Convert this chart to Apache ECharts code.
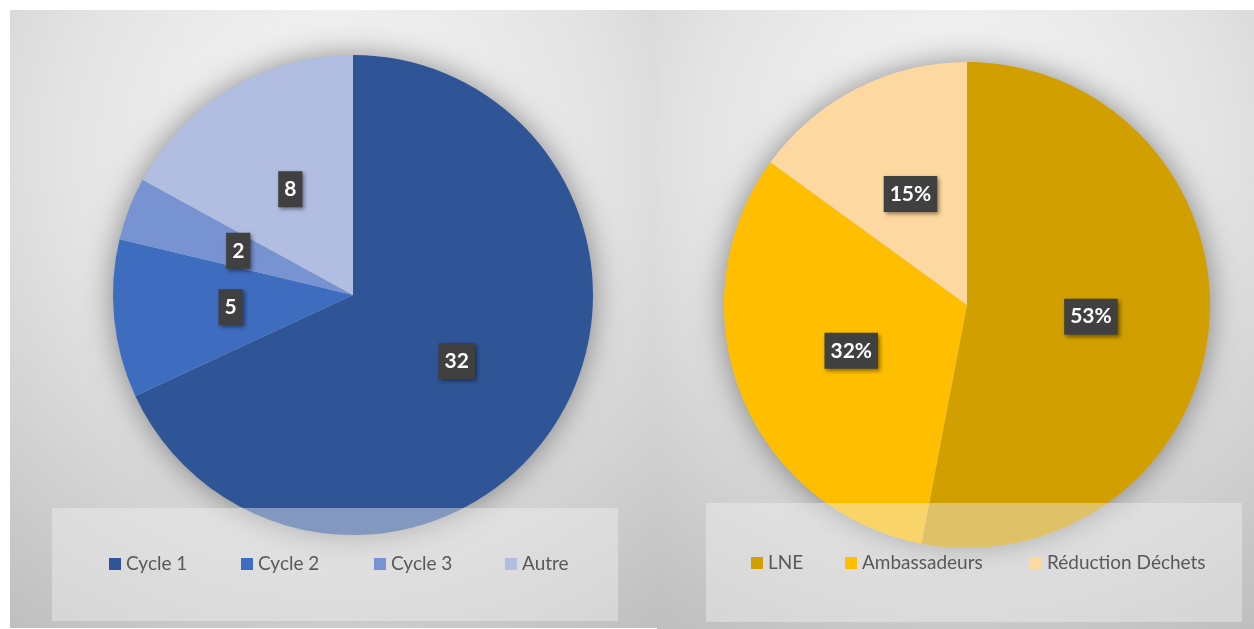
<!DOCTYPE html>
<html>
<head>
<meta charset="utf-8">
<script src="https://cdn.jsdelivr.net/npm/echarts@6/dist/echarts.min.js"></script>
<style>
html,body{margin:0;padding:0;background:#fff;}
#chart{width:1254px;height:629px;}
</style>
</head>
<body>
<div id="chart"></div>
<script>
// ---- data ----
const cycleCategories = ['Cycle 1', 'Cycle 2', 'Cycle 3', 'Autre'];
const cycleValues = [32, 5, 2, 8];
const projectCategories = ['LNE', 'Ambassadeurs', 'Réduction Déchets'];
const projectValues = [53, 32, 15];

// ---- styles / layout ----
const cycleColors = ['#2F5597', '#3E6CBF', '#7893D2', '#B1BDE1'];
const projectColors = ['#D29F00', '#FFBF00', '#FDD8A0'];
const leftLegendX = [109, 241, 374, 505];
const rightLegendX = [751, 845, 1030];
const FONT = 'Lato, "Open Sans", sans-serif';

const labelStyle = {
  show: true,
  position: 'inside',
  color: '#ffffff',
  fontFamily: FONT,
  fontWeight: 'bold',
  fontSize: 21,
  lineHeight: 22,
  backgroundColor: '#404040',
  padding: [7, 6, 7, 6],
  shadowColor: 'rgba(0,0,0,0.45)',
  shadowBlur: 4,
  shadowOffsetX: 2,
  shadowOffsetY: 2
};

function panelFill() {
  return {
    type: 'radial', x: 0.5, y: 0.22, r: 0.95,
    colorStops: [
      { offset: 0, color: '#f8f8f8' },
      { offset: 0.45, color: '#e4e4e4' },
      { offset: 1, color: '#bebebe' }
    ]
  };
}

function makeLegend(name, x, top) {
  return {
    data: [name],
    left: x,
    top: top,
    padding: 0,
    z: 20,
    icon: 'rect',
    itemWidth: 12,
    itemHeight: 12,
    itemGap: 0,
    selectedMode: false,
    textStyle: { color: '#595959', fontFamily: FONT, fontSize: 19, lineHeight: 20, padding: [0, 0, 0, 0] }
  };
}

function shadowSeries(center, radius) {
  return {
    type: 'pie',
    silent: true,
    center: center,
    radius: radius,
    z: 1,
    label: { show: false },
    labelLine: { show: false },
    tooltip: { show: false },
    itemStyle: { color: '#bbbbbb', shadowBlur: 30, shadowColor: 'rgba(0,0,0,0.42)' },
    data: [{ value: 1, name: '__shadow_' + center[0] }]
  };
}

const chart = echarts.init(document.getElementById('chart'));

const option = {
  animation: false,
  backgroundColor: '#ffffff',
  graphic: {
    elements: [
      { type: 'rect', z: -5, silent: true, shape: { x: 10, y: 10, width: 647, height: 618 }, style: { fill: panelFill() } },
      { type: 'rect', z: -5, silent: true, shape: { x: 657, y: 10, width: 597, height: 619 }, style: { fill: panelFill() } },
      { type: 'rect', z: 10, silent: true, shape: { x: 52, y: 508, width: 566, height: 113 }, style: { fill: 'rgba(240,240,240,0.43)' } },
      { type: 'rect', z: 10, silent: true, shape: { x: 706, y: 503, width: 536, height: 119 }, style: { fill: 'rgba(240,240,240,0.43)' } }
    ]
  },
  legend: [
    ...cycleCategories.map((n, i) => makeLegend(n, leftLegendX[i], 554)),
    ...projectCategories.map((n, i) => makeLegend(n, rightLegendX[i], 553))
  ],
  series: [
    shadowSeries([353, 295], 240),
    shadowSeries([967, 305], 243),
    {
      type: 'pie',
      name: 'Cycles',
      center: [353, 295],
      radius: 240,
      startAngle: 90,
      clockwise: true,
      z: 2,
      color: cycleColors,
      label: Object.assign({}, labelStyle, { formatter: '{c}' }),
      labelLine: { show: false },
      emphasis: { disabled: true },
      data: cycleCategories.map((n, i) => ({ name: n, value: cycleValues[i] }))
    },
    {
      type: 'pie',
      name: 'Projets',
      center: [967, 305],
      radius: 243,
      startAngle: 90,
      clockwise: true,
      z: 2,
      color: projectColors,
      label: Object.assign({}, labelStyle, { formatter: '{c}%' }),
      labelLine: { show: false },
      emphasis: { disabled: true },
      data: projectCategories.map((n, i) => ({ name: n, value: projectValues[i] }))
    }
  ]
};

chart.setOption(option);
</script>
</body>
</html>
